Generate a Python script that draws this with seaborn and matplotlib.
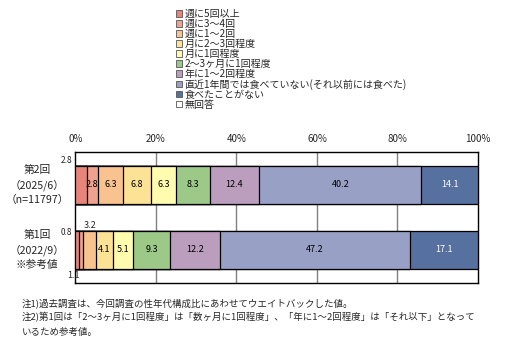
import matplotlib
matplotlib.use("Agg")
import matplotlib.pyplot as plt
from matplotlib.patches import Patch
import numpy as np
import pandas as pd
import seaborn as sns

# Survey rounds (rows) and response categories (stack segments)
rounds = ["第2回\n（2025/6）\n（n=11797）", "第1回\n（2022/9）\n※参考値"]
categories = [
    "週に5回以上",
    "週に3～4回",
    "週に1～2回",
    "月に2～3回程度",
    "月に1回程度",
    "2～3ヶ月に1回程度",
    "年に1～2回程度",
    "直近1年間では食べていない(それ以前には食べた)",
    "食べたことがない",
    "無回答",
]
round2_values = [2.8, 2.8, 6.3, 6.8, 6.3, 8.3, 12.4, 40.2, 14.1, 0.0]
round1_values = [0.8, 1.1, 3.2, 4.1, 5.1, 9.3, 12.2, 47.2, 17.1, 0.0]
colors = ["#E8857A", "#EDA38F", "#F9C38F", "#FCE295", "#FFFCB0",
          "#9CC888", "#BB9DBE", "#98A0C5", "#5670A0", "#FFFFFF"]
x_ticks = [0, 20, 40, 60, 80, 100]
notes = [
    "注1)過去調査は、今回調査の性年代構成比にあわせてウエイトバックした値。",
    "注2)第1回は「2～3ヶ月に1回程度」は「数ヶ月に1回程度」、「年に1～2回程度」は「それ以下」となって",
    "いるため参考値。",
]

sns.set_theme(style="white")
plt.rcParams["font.family"] = ["Noto Sans CJK JP", "DejaVu Sans"]

values = np.array([round2_values, round1_values])
cums = np.cumsum(values, axis=1)
df = pd.DataFrame(cums, columns=categories)
df["round"] = rounds

fig = plt.figure(figsize=(5.09, 3.43), dpi=100)
ax = fig.add_axes([0.1483, 0.1749, 0.7908, 0.3820])

# stacked bars: draw cumulative totals from the widest down
for i in range(len(categories) - 1, -1, -1):
    if values[:, i].sum() == 0:
        continue
    sns.barplot(data=df, x=categories[i], y="round", orient="h", ax=ax,
                color=colors[i], saturation=1, width=0.585,
                edgecolor="black", linewidth=0.9, zorder=3)

ax.set_xlim(0, 100)
ax.set_ylim(1.508, -0.508)
ax.set_xlabel("")
ax.set_ylabel("")
ax.xaxis.tick_top()
ax.set_xticks(x_ticks)
ax.set_xticklabels([f"{t}%" for t in x_ticks], fontsize=7)
ax.tick_params(axis="x", length=0, pad=6)
ax.set_yticks(range(len(rounds)))
ax.set_yticklabels([])
ax.tick_params(axis="y", length=0)

# row labels, one text per line, centred left of the axis
line_offsets = [-0.235, 0.0, 0.225]
for r, name in enumerate(rounds):
    for off, line in zip(line_offsets, name.split("\n")):
        ax.text(-9.6, r + off, line, ha="center", va="center",
                fontsize=7.7, clip_on=False)

for t in x_ticks[1:-1]:
    ax.axvline(t, color="#808080", lw=1, zorder=1)
for s in ax.spines.values():
    s.set_visible(True)
    s.set_color("black")
    s.set_linewidth(1)

# value labels
for r in range(values.shape[0]):
    for i in range(len(categories)):
        v = values[r, i]
        if v == 0:
            continue
        center = cums[r, i] - v / 2
        col = "white" if i == 8 else "black"
        if r == 0 and i == 0:
            ax.text(-0.8, r - 0.38, f"{v}", ha="right", va="center", fontsize=6, clip_on=False)
        elif r == 1 and i == 0:
            ax.text(-0.8, r - 0.27, f"{v}", ha="right", va="center", fontsize=6, clip_on=False)
        elif r == 1 and i == 1:
            ax.text(-0.4, r + 0.40, f"{v}", ha="center", va="center", fontsize=6.5, clip_on=False)
        elif r == 1 and i == 2:
            ax.text(center, r - 0.38, f"{v}", ha="center", va="center", fontsize=6.5, clip_on=False)
        else:
            ax.text(center, r, f"{v}", ha="center", va="center", fontsize=6.5, color=col, zorder=5)

# legend
handles = [Patch(facecolor=c, edgecolor="#555555", linewidth=0.6) for c in colors]
fig.legend(handles, categories, loc="upper left", bbox_to_anchor=(0.345, 0.974),
           frameon=False, fontsize=7.2, handlelength=0.6, handleheight=0.6,
           handletextpad=0.3, labelspacing=0.0, borderaxespad=0, borderpad=0)

# footnotes
for k, line in enumerate(notes):
    fig.text(0.043, 1 - (303 + 14.5 * k) / 343, line, fontsize=6.8, va="center", ha="left")

fig.savefig("out.png", dpi=100)
